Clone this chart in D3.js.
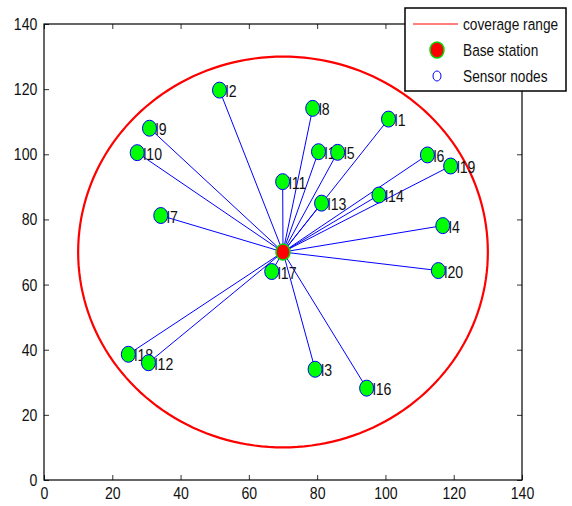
<!DOCTYPE html>
<html>
<head>
<meta charset="utf-8">
<script src="https://cdn.jsdelivr.net/npm/d3@7"></script>
<style>
  body { margin: 0; background: #fff; }
  text { font-family: "Liberation Sans", Arial, sans-serif; fill: #111; }
</style>
</head>
<body>
<div id="chart"></div>
<script>
var width = 572,
    height = 506;

// sensor nodes
var nodeNames = ["l1","l2","l3","l4","l5","l6","l7","l8","l9","l10",
                 "l11","l12","l13","l14","l15","l16","l17","l18","l19","l20"];
var nodeX = [100.9, 51.4, 79.4, 116.8, 86.0, 112.3, 34.2, 78.7, 30.9, 27.3,
             69.9, 30.6, 81.3, 98.1, 80.4, 94.5, 66.7, 24.7, 119.1, 115.5];
var nodeY = [110.8, 119.7, 34.0, 78.1, 100.6, 99.8, 81.2, 114.1, 108.0, 100.5,
             91.6, 36.0, 85.0, 87.5, 100.8, 28.2, 64.0, 38.6, 96.4, 64.3];

var baseStation = [70, 70];
var coverageRadius = 60;

var xTicks = [0, 20, 40, 60, 80, 100, 120, 140];
var yTicks = [0, 20, 40, 60, 80, 100, 120, 140];
var legendLabels = ["coverage range", "Base station", "Sensor nodes"];

var squeeze = "scale(0.83,1)";

var svg = d3.select("#chart")
    .append("svg")
    .attr("width", width)
    .attr("height", height);

var plotL = 44, plotR = 522, plotT = 24, plotB = 480;

var x = d3.scaleLinear().domain([0, 140]).range([plotL, plotR]);
var y = d3.scaleLinear().domain([0, 140]).range([plotB, plotT]);

// axes, MATLAB style ticks pointing in
svg.append("g")
    .attr("transform", "translate(0," + plotB + ")")
    .call(d3.axisBottom(x).tickValues(xTicks).tickSizeInner(-5).tickSizeOuter(0).tickPadding(7))
    .call(function(g) { g.select(".domain").remove(); });
svg.append("g")
    .attr("transform", "translate(0," + plotT + ")")
    .call(d3.axisTop(x).tickValues(xTicks).tickSizeInner(-5).tickSizeOuter(0).tickFormat(""))
    .call(function(g) { g.select(".domain").remove(); });
svg.append("g")
    .attr("class", "yaxis")
    .attr("transform", "translate(" + plotL + ",0)")
    .call(d3.axisLeft(y).tickValues(yTicks).tickSizeInner(-5).tickSizeOuter(0).tickPadding(7))
    .call(function(g) { g.select(".domain").remove(); });
svg.append("g")
    .attr("transform", "translate(" + plotR + ",0)")
    .call(d3.axisRight(y).tickValues(yTicks).tickSizeInner(-5).tickSizeOuter(0).tickFormat(""))
    .call(function(g) { g.select(".domain").remove(); });

svg.selectAll(".tick text")
    .attr("transform", squeeze)
    .style("font-size", "17px")
    .style("font-family", "'Liberation Sans', Arial, sans-serif")
    .attr("fill", "#111");
svg.selectAll(".yaxis .tick text").attr("x", -8);
svg.selectAll(".tick line").attr("stroke", "#333");

svg.append("rect")
    .attr("x", plotL).attr("y", plotT)
    .attr("width", plotR - plotL).attr("height", plotB - plotT)
    .attr("fill", "none").attr("stroke", "#000").attr("stroke-width", 1.2);

// coverage range
var circ = d3.range(0, 361, 2).map(function(a) {
    var t = a * Math.PI / 180;
    return [baseStation[0] + coverageRadius * Math.cos(t), baseStation[1] + coverageRadius * Math.sin(t)];
});
svg.append("path")
    .attr("d", d3.line().x(function(d) { return x(d[0]); }).y(function(d) { return y(d[1]); })(circ))
    .attr("fill", "none")
    .attr("stroke", "#ff0000")
    .attr("stroke-width", 2.2);

// links
svg.selectAll(".link")
    .data(nodeNames)
    .enter().append("line")
    .attr("class", "link")
    .attr("x1", x(baseStation[0]))
    .attr("y1", y(baseStation[1]))
    .attr("x2", function(d, i) { return x(nodeX[i]); })
    .attr("y2", function(d, i) { return y(nodeY[i]); })
    .attr("stroke", "#0000ff")
    .attr("stroke-width", 1);

// labels
svg.selectAll(".label")
    .data(nodeNames)
    .enter().append("text")
    .attr("class", "label")
    .attr("transform", function(d, i) {
        return "translate(" + (x(nodeX[i]) + 6) + "," + (y(nodeY[i]) + 1) + ") " + squeeze;
    })
    .attr("dy", ".36em")
    .style("font-size", "17px")
    .text(function(d) { return d; });

// nodes
svg.selectAll(".node")
    .data(nodeNames)
    .enter().append("ellipse")
    .attr("class", "node")
    .attr("cx", function(d, i) { return x(nodeX[i]); })
    .attr("cy", function(d, i) { return y(nodeY[i]); })
    .attr("rx", 7)
    .attr("ry", 8)
    .attr("fill", "#00ff00")
    .attr("stroke", "#0000ff")
    .attr("stroke-width", 1);

// base station
svg.append("ellipse")
    .attr("cx", x(baseStation[0]))
    .attr("cy", y(baseStation[1]))
    .attr("rx", 7)
    .attr("ry", 8)
    .attr("fill", "#ff0000")
    .attr("stroke", "#00dd00")
    .attr("stroke-width", 1.5);

// legend
var lg = svg.append("g").attr("transform", "translate(405,8)");
lg.append("rect")
    .attr("width", 161).attr("height", 83)
    .attr("fill", "#fff").attr("stroke", "#000").attr("stroke-width", 1.5);

var legend = lg.selectAll(".legend")
    .data(legendLabels)
    .enter().append("g")
    .attr("class", "legend")
    .attr("transform", function(d, i) { return "translate(0," + (16 + i * 26) + ")"; });

legend.append("text")
    .attr("transform", "translate(58,0) " + squeeze)
    .attr("dy", ".36em")
    .style("font-size", "16.5px")
    .text(function(d) { return d; });

legend.filter(function(d, i) { return i === 0; }).append("line")
    .attr("x1", 8).attr("x2", 53)
    .attr("stroke", "#ff0000").attr("stroke-width", 1);
legend.filter(function(d, i) { return i === 1; }).append("ellipse")
    .attr("cx", 32).attr("rx", 7).attr("ry", 8)
    .attr("fill", "#ff0000").attr("stroke", "#00dd00").attr("stroke-width", 1.5);
legend.filter(function(d, i) { return i === 2; }).append("ellipse")
    .attr("cx", 32).attr("rx", 4).attr("ry", 5)
    .attr("fill", "none").attr("stroke", "#0000ff").attr("stroke-width", 1);
</script>
</body>
</html>
